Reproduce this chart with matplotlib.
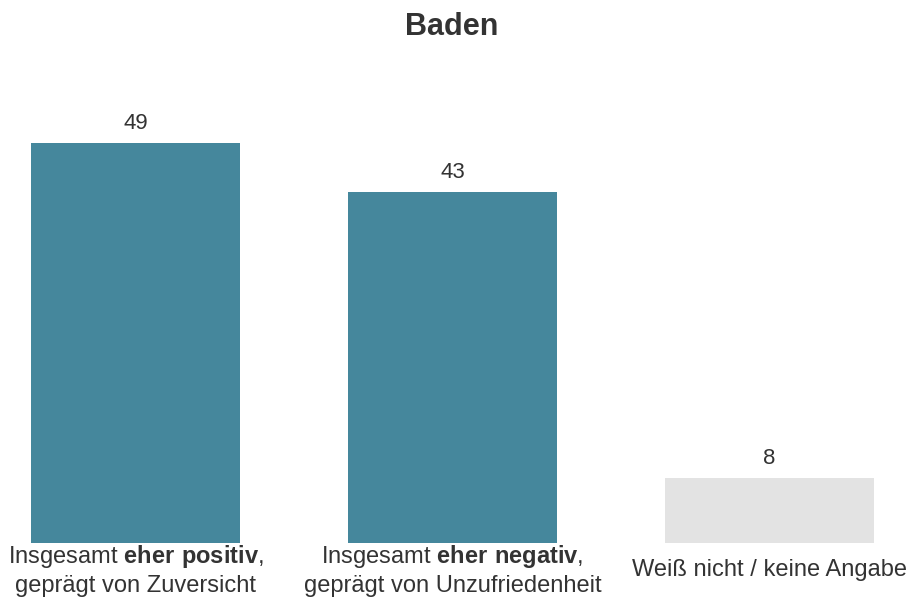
import matplotlib
matplotlib.use('Agg')
from matplotlib import pyplot as plt

plt.rcParams['font.family'] = ['Liberation Sans', 'DejaVu Sans']
plt.rcParams['mathtext.fontset'] = 'custom'
plt.rcParams['mathtext.rm'] = 'Liberation Sans'
plt.rcParams['mathtext.bf'] = 'Liberation Sans:bold'

title = 'Baden'
categories = [
    'Insgesamt $\\mathbf{eher\\ positiv}$,\ngeprägt von Zuversicht',
    'Insgesamt $\\mathbf{eher\\ negativ}$,\ngeprägt von Unzufriedenheit',
    'Weiß nicht / keine Angabe',
]
values = [49, 43, 8]
bar_colors = ['#45879c', '#45879c', '#e3e3e3']
text_color = '#333333'

fig = plt.figure(figsize=(9.08, 6.04), dpi=100)
ax = fig.add_axes([31 / 908, 61 / 604, 843 / 908, 490 / 604])

x = range(len(values))
bars = ax.bar(x, values, width=0.66, color=bar_colors)
for b, v in zip(bars, values):
    ax.annotate(str(v), (b.get_x() + b.get_width() / 2, v), xytext=(0, 6.5),
                textcoords='offset points', ha='center', va='bottom',
                fontsize=16, color=text_color)

ax.set_xlim(-0.33, 2.33)
ax.set_ylim(0, 60)
ax.set_xticks(list(x))
ax.set_xticklabels(categories, fontsize=17, color=text_color, linespacing=1.3)
for lbl in ax.get_xticklabels():
    lbl.set_verticalalignment('center')
ax.tick_params(axis='x', length=0, pad=19.5)
ax.set_yticks([])
for s in ax.spines.values():
    s.set_visible(False)

fig.text(0.497, 1 - 27 / 604, title, ha='center', va='center',
         fontsize=22, fontweight='bold', color=text_color)

fig.savefig('out.png', dpi=100)
